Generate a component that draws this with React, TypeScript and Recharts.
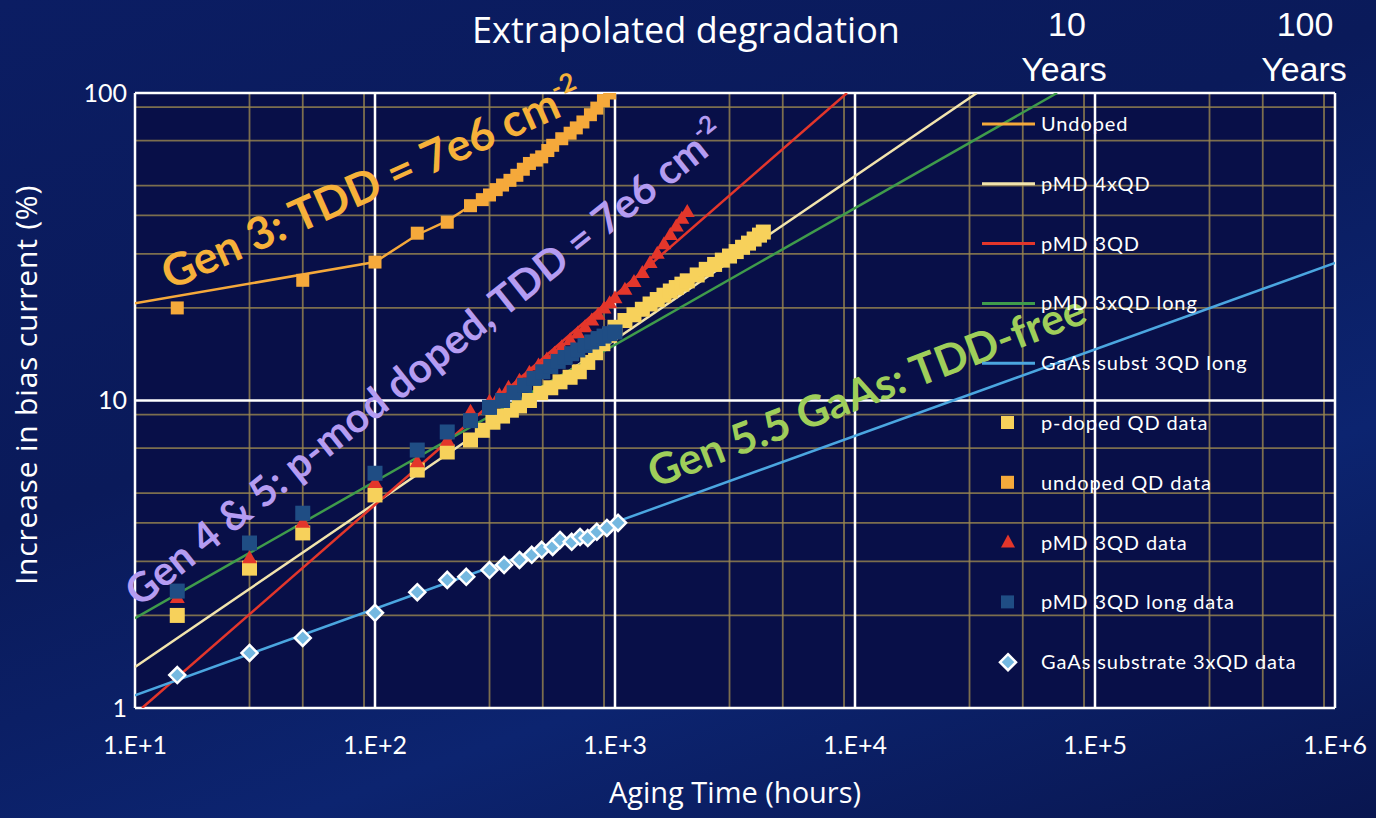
import React from 'react';
import { ComposedChart, Line, Scatter, XAxis, YAxis, CartesianGrid } from 'recharts';

// ---------- data (hours, % increase) ----------
const undopedHours = [15, 50, 100, 150, 200, 250, 280, 300, 320, 340, 365, 390, 415, 440, 470, 495, 525, 550, 600, 650, 690, 735, 790, 840, 895, 950];
const undopedPct = [20, 24.6, 28.2, 35, 38, 43, 45, 46.6, 48.5, 50.2, 52, 54, 56.5, 59, 60.5, 62, 65, 67.6, 71, 74, 77, 80.5, 85, 89.3, 94.5, 100];

const pDopedHours = [15, 30, 50, 100, 150, 200, 250, 280, 310, 340, 370, 400, 440, 490, 540, 590, 650, 710, 770, 830, 890, 950, 1000, 1100, 1200, 1300, 1400, 1500, 1600, 1700, 1800, 1900, 2000, 2200, 2400, 2600, 2800, 3000, 3200, 3400, 3600, 3800, 4000, 4150];
const pDopedPct = [2.0, 2.85, 3.71, 4.93, 5.94, 6.8, 7.44, 8.0, 8.5, 8.9, 9.3, 9.6, 10.0, 10.6, 11.0, 11.5, 11.9, 12.4, 13.3, 14.3, 15.3, 16.3, 17.3, 18.2, 19.0, 19.8, 20.6, 21.3, 22.0, 22.7, 23.3, 23.9, 24.5, 25.6, 26.7, 27.7, 28.6, 29.5, 30.5, 31.5, 32.5, 33.5, 34.5, 35.3];

const pmd3Hours = [15, 30, 50, 100, 150, 200, 250, 300, 330, 360, 400, 440, 480, 520, 560, 600, 650, 700, 750, 800, 850, 900, 950, 1000, 1100, 1200, 1300, 1400, 1500, 1600, 1700, 1800, 1900, 2000];
const pmd3Pct = [2.28, 3.07, 4.0, 5.39, 6.3, 7.4, 9.2, 9.9, 10.4, 11.0, 11.6, 12.3, 13.0, 13.6, 14.2, 14.9, 15.7, 16.5, 17.3, 18.2, 19.0, 19.9, 20.7, 21.5, 22.9, 24.3, 26.0, 28.0, 30.0, 32.2, 34.5, 36.8, 39.0, 41.0];

const pmd3LongHours = [15, 30, 50, 100, 150, 200, 250, 300, 340, 380, 420, 460, 500, 540, 580, 620, 660, 700, 750, 800, 850, 900, 950, 1000];
const pmd3LongPct = [2.4, 3.44, 4.3, 5.8, 6.9, 7.9, 8.6, 9.5, 10.0, 10.6, 11.2, 11.8, 12.4, 12.9, 13.4, 13.8, 14.2, 14.6, 15.1, 15.5, 15.9, 16.2, 16.5, 16.7];

const gaasHours = [15, 30, 50, 100, 150, 200, 240, 300, 345, 400, 450, 495, 550, 590, 660, 715, 770, 840, 925, 1030];
const gaasPct = [1.28, 1.51, 1.69, 2.04, 2.38, 2.61, 2.67, 2.81, 2.92, 3.03, 3.15, 3.27, 3.34, 3.52, 3.47, 3.6, 3.57, 3.74, 3.85, 4.0];

// fit / trend lines
const undopedLineHours = [10, 100, 150, 200, 250, 300, 400, 500, 600, 700, 800, 950];
const undopedLinePct = [20.7, 28.2, 34.6, 38.4, 43, 46.6, 55, 62.5, 71, 78, 86, 100];
const pmd4LineHours = [10, 32200];
const pmd4LinePct = [1.36, 100];
const pmd3LineHours = [10.7, 9260];
const pmd3LinePct = [1, 100];
const pmd3LongLineHours = [10, 69500];
const pmd3LongLinePct = [1.96, 100];
const gaasLineHours = [10, 1000000];
const gaasLinePct = [1.1, 28];

const xTicks = [10, 100, 1000, 10000, 100000, 1000000];
const yTicks = [1, 10, 100];

const zip = (xs: number[], ys: number[]) => xs.map((x, i) => ({ x, y: ys[i] }));

const minorValues = (from: number, to: number) => {
  const out: number[] = [];
  for (let d = from; d < to; d *= 10) for (let k = 2; k <= 9; k++) out.push(d * k);
  return out;
};

const C = {
  undoped: '#f5a93b',
  pmd4: '#f2e4ad',
  pmd3: '#e3362b',
  pmd3Long: '#3f9b4b',
  gaas: '#4ba6e0',
  pDoped: '#f7d15b',
  navy: '#1f4d84',
  diamond: '#74b8e0',
};

const square = (color: string, s: number) => (p: any) =>
  <rect x={p.cx - s / 2} y={p.cy - s / 2} width={s} height={s} fill={color} />;
const triangle = (color: string) => (p: any) =>
  <path d={`M${p.cx},${p.cy - 8} L${p.cx + 7.5},${p.cy + 5} L${p.cx - 7.5},${p.cy + 5} Z`} fill={color} />;
const diamond = (p: any) =>
  <path d={`M${p.cx},${p.cy - 8} L${p.cx + 8},${p.cy} L${p.cx},${p.cy + 8} L${p.cx - 8},${p.cy} Z`} fill={C.diamond} stroke="#ffffff" strokeWidth={2.5} />;

const legendItems = [
  { label: 'Undoped', kind: 'line', color: C.undoped },
  { label: 'pMD 4xQD', kind: 'line', color: C.pmd4 },
  { label: 'pMD 3QD', kind: 'line', color: C.pmd3 },
  { label: 'pMD 3xQD long', kind: 'line', color: C.pmd3Long },
  { label: 'GaAs subst 3QD long', kind: 'line', color: C.gaas },
  { label: 'p-doped QD data', kind: 'square', color: C.pDoped },
  { label: 'undoped QD data', kind: 'square', color: C.undoped },
  { label: 'pMD 3QD data', kind: 'triangle', color: C.pmd3 },
  { label: 'pMD 3QD long data', kind: 'square', color: C.navy },
  { label: 'GaAs substrate 3xQD data', kind: 'diamond', color: C.diamond },
];

const font = 'Lato, "Open Sans", sans-serif';
const wide = '"Open Sans", Lato, sans-serif';

export default function App() {
  const xFmt = (v: number) => `1.E+${Math.round(Math.log10(v))}`;
  return (
    <div style={{ position: 'absolute', left: 0, top: 0, width: 1376, height: 818, overflow: 'hidden',
      background: 'linear-gradient(160deg, #0b1d63 0%, #0a1a5a 40%, #0c2470 70%, #091650 100%)' }}>
      <ComposedChart width={1376} height={818} margin={{ top: 93, right: 41, bottom: 50, left: 75 }}>
        <CartesianGrid fill="#080f48" stroke="#9a8650" strokeWidth={1.8} strokeOpacity={0.8}
          horizontalValues={minorValues(1, 100)} verticalValues={minorValues(10, 1000000)} />
        <CartesianGrid fill="none" stroke="#ffffff" strokeWidth={2.5}
          horizontalValues={yTicks} verticalValues={xTicks} />
        <XAxis dataKey="x" type="number" scale="log" domain={[10, 1000000]} ticks={xTicks} allowDataOverflow
          tickFormatter={xFmt} axisLine={false} tickLine={false} height={60} tickMargin={22}
          tick={{ fill: '#ffffff', fontSize: 25, fontFamily: font }} />
        <YAxis dataKey="y" type="number" scale="log" domain={[1, 100]} ticks={yTicks} allowDataOverflow
          axisLine={false} tickLine={false} width={60} tickMargin={2}
          tick={{ fill: '#ffffff', fontSize: 25, fontFamily: font }} />

        <Line data={zip(undopedLineHours, undopedLinePct)} dataKey="y" stroke={C.undoped} strokeWidth={2.5} dot={false} isAnimationActive={false} />
        <Line data={zip(pmd4LineHours, pmd4LinePct)} dataKey="y" stroke={C.pmd4} strokeWidth={2.5} dot={false} isAnimationActive={false} />
        <Line data={zip(pmd3LineHours, pmd3LinePct)} dataKey="y" stroke={C.pmd3} strokeWidth={2.5} dot={false} isAnimationActive={false} />
        <Line data={zip(pmd3LongLineHours, pmd3LongLinePct)} dataKey="y" stroke={C.pmd3Long} strokeWidth={2.5} dot={false} isAnimationActive={false} />
        <Line data={zip(gaasLineHours, gaasLinePct)} dataKey="y" stroke={C.gaas} strokeWidth={2.5} dot={false} isAnimationActive={false} />

        <Scatter data={zip(pDopedHours, pDopedPct)} shape={square(C.pDoped, 15)} isAnimationActive={false} />
        <Scatter data={zip(undopedHours, undopedPct)} shape={square(C.undoped, 13)} isAnimationActive={false} />
        <Scatter data={zip(pmd3Hours, pmd3Pct)} shape={triangle(C.pmd3)} isAnimationActive={false} />
        <Scatter data={zip(pmd3LongHours, pmd3LongPct)} shape={square(C.navy, 15)} isAnimationActive={false} />
        <Scatter data={zip(gaasHours, gaasPct)} shape={diamond} isAnimationActive={false} />
      </ComposedChart>

      <svg width={1376} height={818} style={{ position: 'absolute', left: 0, top: 0, pointerEvents: 'none' }}>
        <text x={686} y={43} textAnchor="middle" fill="#ffffff" fontSize={36} fontFamily={wide}>Extrapolated degradation</text>
        <g fontFamily='"Liberation Sans", Arial, sans-serif' fontSize={34} fill="#ffffff" textAnchor="middle">
          <text x={1067} y={36}>10</text>
          <text x={1064} y={81}>Years</text>
          <text x={1305} y={36}>100</text>
          <text x={1304} y={81}>Years</text>
        </g>
        <text x={735} y={803} textAnchor="middle" fill="#ffffff" fontSize={29} fontFamily={wide}>Aging Time (hours)</text>
        <text transform="translate(37,385) rotate(-90)" textAnchor="middle" fill="#ffffff" fontSize={30} letterSpacing={0.8} fontFamily={wide}>Increase in bias current (%)</text>

        {/* annotations */}
        <text transform="translate(378,198) rotate(-24)" textAnchor="middle" fill="#f6b13a" fontSize={45} fontWeight={700} fontFamily={font}>
          Gen 3: TDD = 7e6 cm<tspan dy={-19} fontSize={26}>-2</tspan>
        </text>
        <text transform="translate(434,374) rotate(-38.5)" textAnchor="middle" fill="#b59cf2" fontSize={41} fontWeight={700} fontFamily={font}>
          Gen 4 &amp; 5: p-mod doped, TDD = 7e6 cm<tspan dy={-17} fontSize={24}>-2</tspan>
        </text>
        <text transform="translate(872,405) rotate(-21)" textAnchor="middle" fill="#9fce5a" fontSize={43} fontWeight={700} fontFamily={font}>
          Gen 5.5 GaAs: TDD-free
        </text>

        {/* legend */}
        {legendItems.map((it, i) => {
          const y = 124 + i * 59.8;
          return (
            <g key={it.label}>
              {it.kind === 'line' && <line x1={982} x2={1035} y1={y} y2={y} stroke={it.color} strokeWidth={3} />}
              {it.kind === 'square' && <rect x={1001} y={y - 7} width={13} height={13} fill={it.color} />}
              {it.kind === 'triangle' && <path d={`M1008,${y - 8} L1015,${y + 5} L1001,${y + 5} Z`} fill={it.color} />}
              {it.kind === 'diamond' && <path d={`M1008,${y - 8} L1016,${y} L1008,${y + 8} L1000,${y} Z`} fill={it.color} stroke="#fff" strokeWidth={2.5} />}
              <text x={1041} y={y + 7} fill="#ffffff" fontSize={20} letterSpacing={0.9} fontFamily={font}>{it.label}</text>
            </g>
          );
        })}
      </svg>
    </div>
  );
}
